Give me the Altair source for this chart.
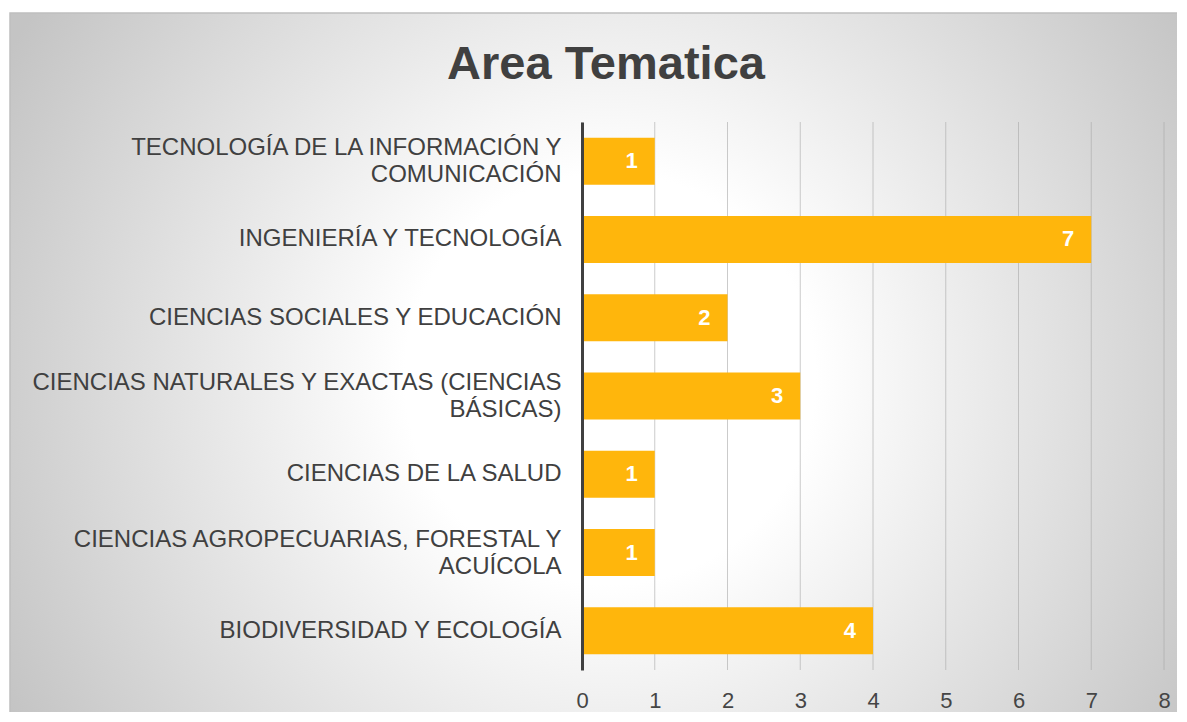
import altair as alt
import pandas as pd

# ---- data ----
categories = [
    "TECNOLOGÍA DE LA INFORMACIÓN Y\nCOMUNICACIÓN",
    "INGENIERÍA Y TECNOLOGÍA",
    "CIENCIAS SOCIALES Y EDUCACIÓN",
    "CIENCIAS NATURALES Y EXACTAS (CIENCIAS\nBÁSICAS)",
    "CIENCIAS DE LA SALUD",
    "CIENCIAS AGROPECUARIAS, FORESTAL Y\nACUÍCOLA",
    "BIODIVERSIDAD Y ECOLOGÍA",
]
values = [1, 7, 2, 3, 1, 1, 4]
x_ticks = [0, 1, 2, 3, 4, 5, 6, 7, 8]
title_text = "Area Tematica"

FONT = "Liberation Sans"
W, H = 582, 548

df = pd.DataFrame({"area": categories, "n": values})
grid_df = pd.DataFrame({"t": x_ticks})
bg_df = pd.DataFrame({"k": [0]})

xscale = alt.Scale(domain=[0, 8], nice=False, zero=True)
yscale = alt.Scale(domain=categories, paddingInner=0.4, paddingOuter=0.2)

xaxis = alt.Axis(values=x_ticks, grid=False, domain=False, ticks=False,
                 labelFontSize=22, labelColor="#454545", labelPadding=20,
                 labelFlush=False, labelFont=FONT, title=None, zindex=1)
yaxis = alt.Axis(title=None, ticks=False, domainColor="#404040", domainWidth=3,
                 labelFontSize=24, labelColor="#404040", labelPadding=21,
                 labelFont=FONT, labelLimit=700, labelLineHeight=27,
                 labelExpr="split(datum.label, '\\n')",
                 labelOffset={"condition": {"test": "indexof(datum.label, '\\n') >= 0",
                                            "value": -13},
                              "value": 0},
                 zindex=1)

gradient = {
    "gradient": "radial",
    "x1": 0.5, "y1": 0.5, "r1": 0,
    "x2": 0.5, "y2": 0.5, "r2": 0.57,
    "stops": [
        {"offset": 0, "color": "#ffffff"},
        {"offset": 0.3, "color": "#ffffff"},
        {"offset": 1, "color": "#c4c4c4"},
    ],
}

bg = alt.Chart(bg_df).mark_rect(fill=gradient, stroke="#bfbfbf", strokeWidth=1.5).encode(
    x=alt.value(-572), x2=alt.value(628), y=alt.value(-109), y2=alt.value(623)
)

grid = alt.Chart(grid_df).mark_rule(color="#a8a8a8", strokeWidth=1, opacity=0.6).encode(
    x=alt.X("t:Q", scale=xscale, axis=xaxis),
    y=alt.value(0),
    y2=alt.value(H),
)

bars = alt.Chart(df).mark_bar(color="#FFB60C").encode(
    x=alt.X("n:Q", scale=xscale, axis=xaxis),
    y=alt.Y("area:N", sort=categories, scale=yscale, axis=yaxis),
)

labels = alt.Chart(df).mark_text(
    align="right", baseline="middle", dx=-17, color="white",
    fontSize=22, fontWeight="bold", font=FONT
).encode(
    x=alt.X("n:Q", scale=xscale, axis=xaxis),
    y=alt.Y("area:N", sort=categories, scale=yscale, axis=yaxis),
    text="n:Q",
)

chart = alt.layer(bg, grid, bars, labels).properties(
    width=W,
    height=H,
    title=alt.Title(title_text, fontSize=47, fontWeight="bold", color="#404040",
                    font=FONT, anchor="middle", frame="bounds",
                    baseline="alphabetic", offset=-114, dx=-4),
    padding={"left": 574, "top": 114, "right": 13, "bottom": 42},
    autosize=alt.AutoSizeParams(type="none"),
    background="white",
).configure_view(stroke=None)

chart.save("out.html", embed_options={"renderer": "svg", "actions": False})
